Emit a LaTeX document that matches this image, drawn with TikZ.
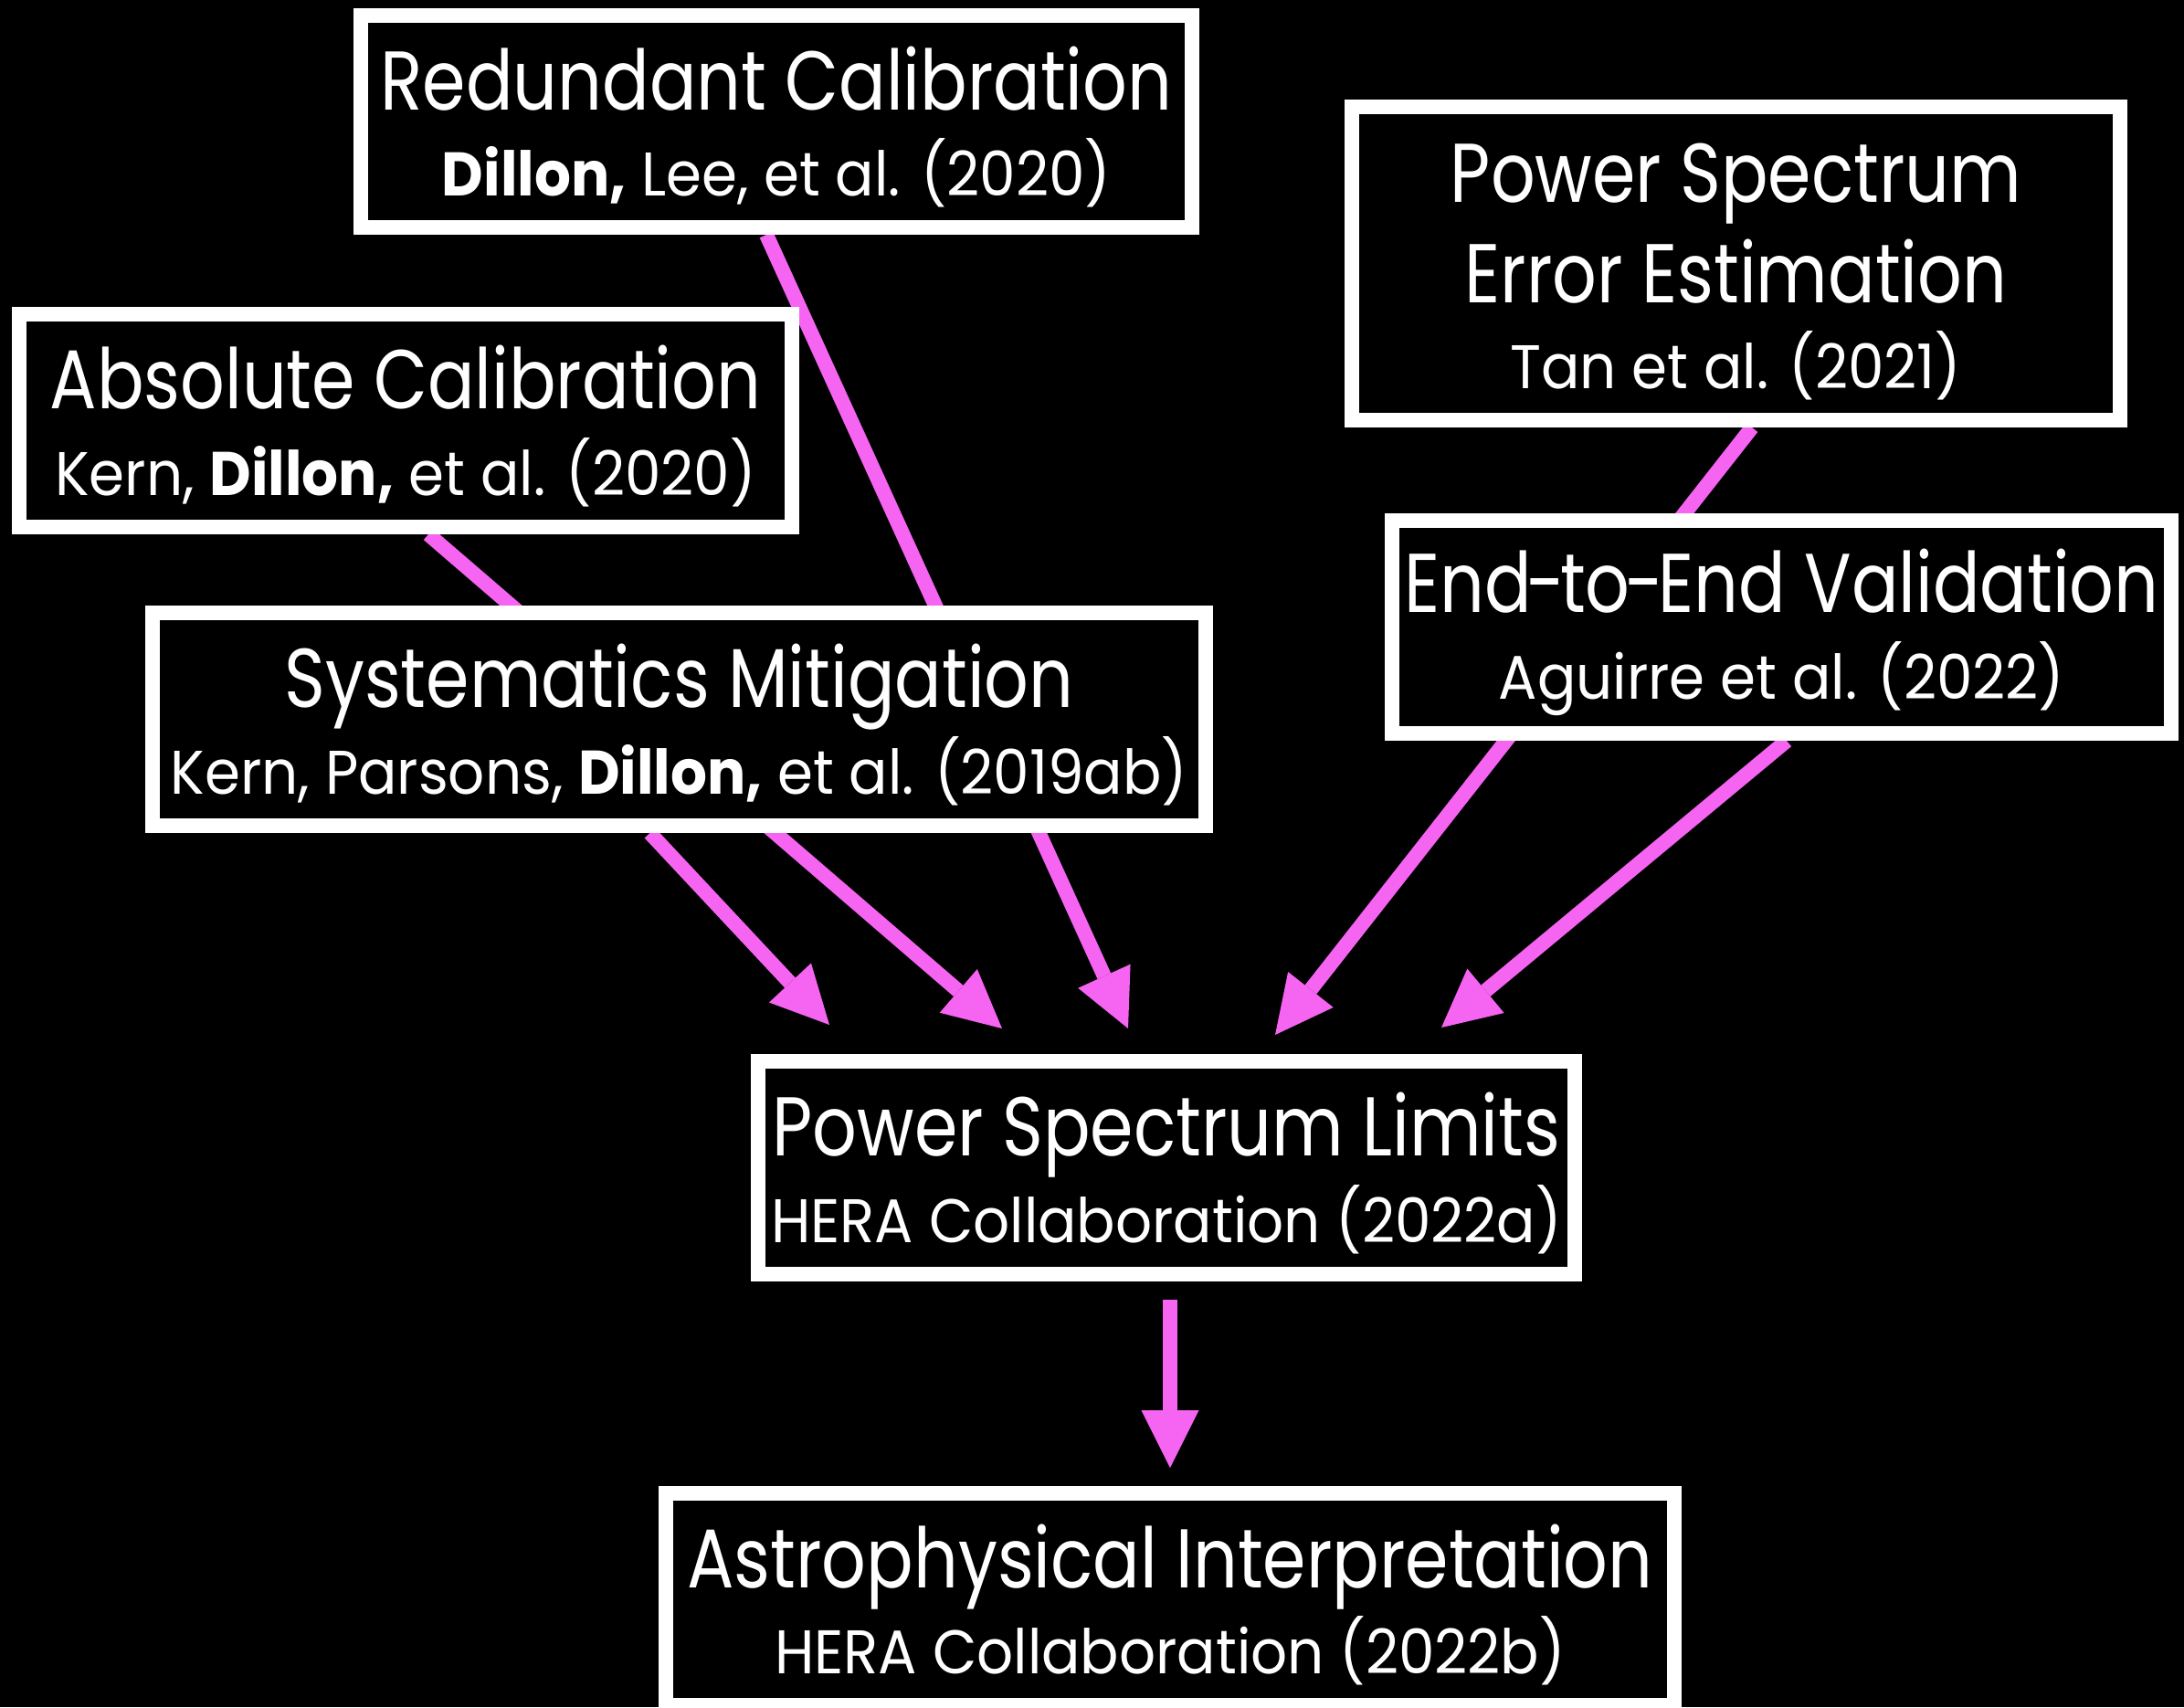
\documentclass[tikz,border=0pt]{standalone}
\usepackage{fontspec}
\setmainfont{Poppins}[FakeStretch=0.835]
\newfontfamily\citefamily{Poppins}[FakeStretch=0.93]
\usetikzlibrary{arrows.meta}

\definecolor{linkpink}{RGB}{246,100,242}
\newcommand\titlesize{\fontsize{26}{26.9}\selectfont}
\newcommand\citesize{\citefamily\fontsize{19.2}{26.9}\selectfont}
\newcommand\tightdash{\kern-0.06em-\kern-0.06em}

\pgfdeclarelayer{canvas}
\pgfdeclarelayer{links}
\pgfsetlayers{canvas,links,main}

\begin{document}
\begin{tikzpicture}[line join=miter,
    paper/.style={draw=white,line width=1.6mm,fill=black,inner sep=0pt},
    papertext/.style={text=white,inner sep=0pt,align=center,font=\titlesize,yshift=-0.06cm},
    link/.style={draw=linkpink,line width=1.6mm,-{Triangle[width=6.3mm,length=6.3mm,line width=0pt]}}]
  \useasboundingbox (0,0) rectangle (23.91,-18.69);
  \begin{pgfonlayer}{canvas}
    \fill[black] (0,0) rectangle (23.91,-18.69);
  \end{pgfonlayer}
  \clip (0,0) rectangle (23.91,-18.69);

  % papers
  \node[paper,minimum width=9.10cm,minimum height=2.32cm,
    label={[papertext]center:Redundant Calibration\\{\citesize\textbf{Dillon,} Lee, et al. (2020)}}]
    (redcal) at (8.50,-1.33) {};
  \node[paper,minimum width=8.46cm,minimum height=2.33cm,
    label={[papertext]center:Absolute Calibration\\{\citesize Kern, \textbf{Dillon,} et al. (2020)}}]
    (abscal) at (4.44,-4.605) {};
  \node[paper,minimum width=11.53cm,minimum height=2.33cm,
    label={[papertext]center:Systematics Mitigation\\{\citesize Kern, Parsons, \textbf{Dillon,} et al. (2019ab)}}]
    (sysmit) at (7.435,-7.875) {};
  \node[paper,minimum width=8.41cm,minimum height=3.43cm,
    label={[papertext,yshift=-0.03cm]center:Power Spectrum\\[4.4pt]Error Estimation\\{\citesize Tan et al. (2021)}}]
    (pserr) at (19.005,-2.885) {};
  \node[paper,minimum width=8.53cm,minimum height=2.33cm,
    label={[papertext]center:End\tightdash to\tightdash End Validation\\{\citesize Aguirre et al. (2022)}}]
    (valid) at (19.505,-6.865) {};
  \node[paper,minimum width=8.94cm,minimum height=2.33cm,
    label={[papertext]center:Power Spectrum Limits\\{\citesize HERA Collaboration (2022a)}}]
    (pslim) at (12.77,-12.785) {};
  \node[paper,minimum width=11.04cm,minimum height=2.32cm,
    label={[papertext]center:Astrophysical Interpretation\\{\citesize HERA Collaboration (2022b)}}]
    (astro) at (12.81,-17.51) {};

  % arrow tips above the limits box
  \coordinate (tipsys) at (9.08,-11.22);
  \coordinate (tipabs) at (10.97,-11.26);
  \coordinate (tipred) at (12.35,-11.26);
  \coordinate (tiperr) at (13.96,-11.33);
  \coordinate (tipval) at (15.78,-11.25);
  \coordinate (limout) at (12.81,-14.23);
  \coordinate (tipastro) at (12.81,-16.07);

  \begin{pgfonlayer}{links}
    \draw[link] ([xshift=-0.11cm]redcal.south) -- (tipred);
    \draw[link] ([xshift=0.25cm]abscal.south) -- (tipabs);
    \draw[link] ([xshift=-0.32cm]sysmit.south) -- (tipsys);
    \draw[link] ([xshift=0.175cm]pserr.south) -- (tiperr);
    \draw[link] ([xshift=0.055cm]valid.south) -- (tipval);
    \draw[link] (limout) -- (tipastro);
  \end{pgfonlayer}
\end{tikzpicture}
\end{document}
